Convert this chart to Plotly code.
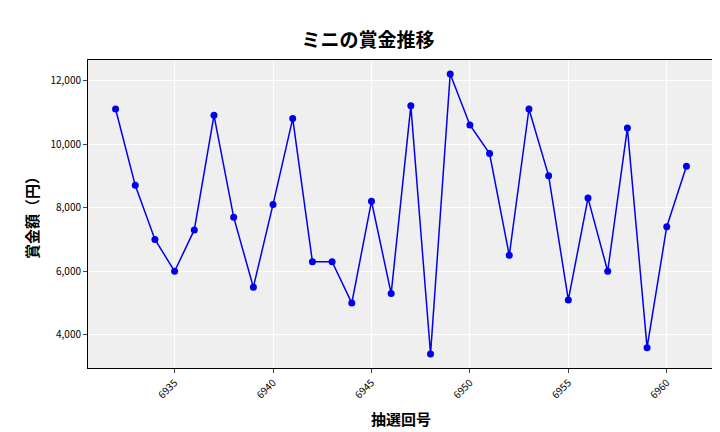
import plotly.graph_objects as go

draws = list(range(6932, 6962))
prizes = [11100, 8700, 7000, 6000, 7300, 10900, 7700, 5500, 8100, 10800,
          6300, 6300, 5000, 8200, 5300, 11200, 3400, 12200, 10600, 9700,
          6500, 11100, 9000, 5100, 8300, 6000, 10500, 3600, 7400, 9300]
xticks = [6935, 6940, 6945, 6950, 6955, 6960]
yticks = [4000, 6000, 8000, 10000, 12000]

fig = go.Figure(go.Scatter(x=draws, y=prizes, mode="lines+markers",
                           line=dict(color="#0000ee", width=1.5),
                           marker=dict(color="#0000ee", size=7)))
font = "Noto Sans CJK JP"
fig.update_layout(
    width=720, height=432, margin=dict(l=80, r=14, t=52, b=72, autoexpand=False),
    paper_bgcolor="white", plot_bgcolor="#efefef", showlegend=False,
    font=dict(family=font, size=10, color="black"),
    title=dict(text="<b>ミニの賞金推移</b>", x=0.5, xanchor="center", y=0.94,
               font=dict(size=19, family=font)),
)
fig.update_xaxes(tickvals=xticks, tickangle=-45, range=[6930.6, 6962.4],
                 showgrid=True, gridcolor="white", zeroline=False, automargin=False,
                 ticks="outside", ticklen=4, showline=True, linecolor="black", mirror=True,
                 title=dict(text="<b>抽選回号</b>", font=dict(size=15), standoff=14))
fig.update_yaxes(tickvals=yticks, tickformat=",", range=[2960, 12640],
                 showgrid=True, gridcolor="white", zeroline=False, automargin=False,
                 ticks="outside", ticklen=4, showline=True, linecolor="black", mirror=True,
                 title=dict(text="<b>賞金額（円）</b>", font=dict(size=15), standoff=8))
fig.write_html("out.html")
